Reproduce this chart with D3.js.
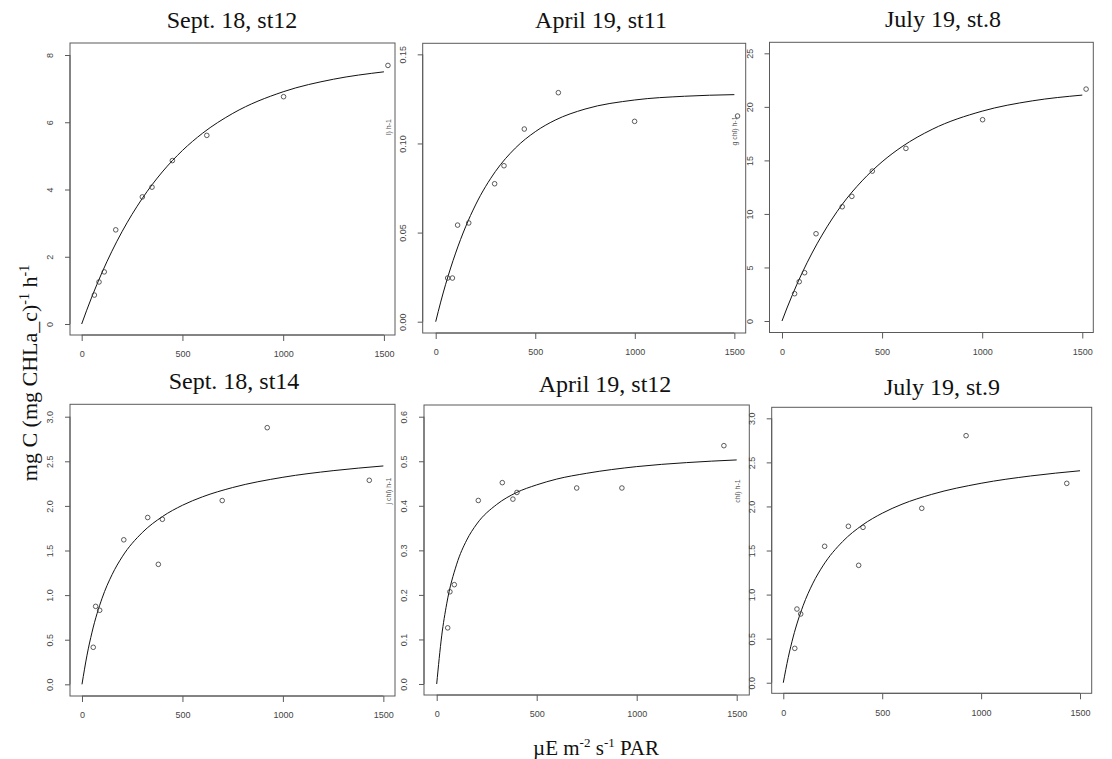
<!DOCTYPE html>
<html>
<head>
<meta charset="utf-8">
<script src="https://cdn.jsdelivr.net/npm/d3@7"></script>
<style>
html,body{margin:0;padding:0;background:#fff;}
svg{display:block;}
</style>
</head>
<body>
<svg id="chart" width="1112" height="759"></svg>
<script>
// ---------- DATA ----------
const panelTitles = ["Sept. 18, st12", "April 19, st11", "July 19, st.8",
                     "Sept. 18, st14", "April 19, st12", "July 19, st.9"];

// observed light (PAR) and production per panel
const parP1 = [63, 86, 112, 169, 301, 349, 450, 621, 1002, 1520];
const prodP1 = [0.86, 1.25, 1.55, 2.80, 3.78, 4.07, 4.86, 5.61, 6.76, 7.69];
const parP2 = [60, 84, 110, 166, 296, 343, 445, 616, 999, 1516];
const prodP2 = [0.0245, 0.0245, 0.0542, 0.0554, 0.0774, 0.0875, 0.1081, 0.1285, 0.1124, 0.1154];
const parP3 = [63, 86, 113, 170, 301, 349, 451, 619, 1002, 1519];
const prodP3 = [2.55, 3.67, 4.51, 8.15, 10.67, 11.64, 14.0, 16.12, 18.8, 21.66];
const parP4 = [56, 68, 88, 208, 327, 380, 400, 698, 922, 1430];
const prodP4 = [0.415, 0.874, 0.83, 1.62, 1.87, 1.345, 1.85, 2.06, 2.877, 2.287];
const parP5 = [55, 66, 88, 208, 328, 381, 401, 700, 926, 1436];
const prodP5 = [0.126, 0.207, 0.223, 0.412, 0.452, 0.415, 0.43, 0.44, 0.44, 0.535];
const parP6 = [58, 69, 88, 209, 329, 381, 403, 700, 924, 1433];
const prodP6 = [0.39, 0.836, 0.78, 1.548, 1.775, 1.332, 1.763, 1.979, 2.803, 2.262];

// fitted P-I curve at these light levels
const curvePar = [0, 25, 50, 100, 150, 200, 300, 400, 500, 600, 750, 1000, 1250, 1500];
const fitP1 = [0, 0.411, 0.801, 1.519, 2.165, 2.743, 3.728, 4.522, 5.160, 5.674, 6.264, 6.907, 7.280, 7.50];
const fitP2 = [0, 0.0110, 0.0210, 0.0385, 0.0532, 0.0655, 0.0843, 0.0974, 0.1066, 0.1131, 0.1193, 0.1244, 0.1265, 0.1274];
const fitP3 = [0, 1.214, 2.36, 4.47, 6.344, 8.02, 10.87, 13.09, 14.87, 16.29, 17.90, 19.60, 20.56, 21.10];
const fitP4 = [0, 0.327, 0.585, 0.965, 1.231, 1.429, 1.701, 1.880, 2.007, 2.102, 2.206, 2.321, 2.395, 2.448];
const fitP5 = [0, 0.108, 0.180, 0.269, 0.323, 0.359, 0.403, 0.430, 0.447, 0.460, 0.473, 0.488, 0.497, 0.503];
const fitP6 = [0, 0.286, 0.519, 0.873, 1.130, 1.325, 1.602, 1.789, 1.923, 2.025, 2.137, 2.263, 2.346, 2.405];

// tick values and labels
const xTicks = [0, 500, 1000, 1500];
const xTickLabels = ["0", "500", "1000", "1500"];
const yTicksP1 = [0, 2, 4, 6, 8];
const yTickLabelsP1 = ["0", "2", "4", "6", "8"];
const yTicksP2 = [0, 0.05, 0.10, 0.15];
const yTickLabelsP2 = ["0.00", "0.05", "0.10", "0.15"];
const yTicksP3 = [0, 5, 10, 15, 20, 25];
const yTickLabelsP3 = ["0", "5", "10", "15", "20", "25"];
const yTicksP4 = [0, 0.5, 1.0, 1.5, 2.0, 2.5, 3.0];
const yTickLabelsP4 = ["0.0", "0.5", "1.0", "1.5", "2.0", "2.5", "3.0"];
const yTicksP5 = [0, 0.1, 0.2, 0.3, 0.4, 0.5, 0.6];
const yTickLabelsP5 = ["0.0", "0.1", "0.2", "0.3", "0.4", "0.5", "0.6"];
const yTicksP6 = [0, 0.5, 1.0, 1.5, 2.0, 2.5, 3.0];
const yTickLabelsP6 = ["0.0", "0.5", "1.0", "1.5", "2.0", "2.5", "3.0"];

// cut-off axis-label fragments visible in the composite
const fragmentTexts = ["l) h-1", "g chl) h-1", "j chl) h-1", "chl) h-1"];

// ---------- LAYOUT ----------
// plot box in px and the axis limits at the box edges
const layout = [
  {x0: 70,    x1: 395,    y0: 43,    y1: 335,   xd: [-58, 1555],   yd: [-0.327, 8.357],   tx: 232, ty: 27.5},
  {x0: 422.7, x1: 745.7,  y0: 43.3,  y1: 333,   xd: [-65.3, 1557], yd: [-0.00634, 0.1562], tx: 601, ty: 28},
  {x0: 769.5, x1: 1093.3, y0: 42.3,  y1: 332.5, xd: [-62.4, 1555], yd: [-1.074, 26.03],    tx: 943, ty: 26.5},
  {x0: 70,    x1: 395,    y0: 404.3, y1: 696,   xd: [-59.7, 1558], yd: [-0.131, 3.139],    tx: 234, ty: 389},
  {x0: 424,   x1: 749.3,  y0: 405,   y1: 695,   xd: [-63.5, 1563], yd: [-0.0247, 0.6263],  tx: 605, ty: 391.5},
  {x0: 771.7, x1: 1091.7, y0: 407.3, y1: 693.3, xd: [-58.6, 1559], yd: [-0.12, 3.125],     tx: 942, ty: 395}
];
const fragmentPos = [[388, 127], [734, 131], [388, 491], [737, 491]];

const panels = [
  {par: parP1, prod: prodP1, fit: fitP1, yt: yTicksP1, ytl: yTickLabelsP1},
  {par: parP2, prod: prodP2, fit: fitP2, yt: yTicksP2, ytl: yTickLabelsP2},
  {par: parP3, prod: prodP3, fit: fitP3, yt: yTicksP3, ytl: yTickLabelsP3},
  {par: parP4, prod: prodP4, fit: fitP4, yt: yTicksP4, ytl: yTickLabelsP4},
  {par: parP5, prod: prodP5, fit: fitP5, yt: yTicksP5, ytl: yTickLabelsP5},
  {par: parP6, prod: prodP6, fit: fitP6, yt: yTicksP6, ytl: yTickLabelsP6}
];

const svg = d3.select("#chart");
svg.append("rect").attr("width", 1112).attr("height", 759).attr("fill", "#fff");

const axisColor = "#5a5a5a";
const tickFont = "'Liberation Sans', Arial, sans-serif";
const serif = "'Liberation Serif', 'Times New Roman', serif";

panels.forEach((p, i) => {
  const L = layout[i];
  const x = d3.scaleLinear().domain(L.xd).range([L.x0, L.x1]);
  const y = d3.scaleLinear().domain(L.yd).range([L.y1, L.y0]);
  const g = svg.append("g");

  // frame
  g.append("rect")
    .attr("x", L.x0).attr("y", L.y0)
    .attr("width", L.x1 - L.x0).attr("height", L.y1 - L.y0)
    .attr("fill", "none").attr("stroke", axisColor).attr("stroke-width", 1);

  // x axis
  const xAxis = d3.axisBottom(x).tickValues(xTicks)
    .tickFormat((d, k) => xTickLabels[k]).tickSize(6).tickPadding(10);
  const gx = g.append("g").attr("transform", `translate(0,${L.y1})`).call(xAxis);
  gx.select(".domain").attr("d", `M${x(xTicks[0])},0H${x(xTicks[xTicks.length - 1])}`)
    .attr("stroke", axisColor);
  gx.selectAll(".tick line").attr("stroke", axisColor);
  gx.selectAll(".tick text").attr("fill", "#444").attr("font-size", 9)
    .attr("font-family", tickFont);

  // y axis
  const yAxis = d3.axisLeft(y).tickValues(p.yt)
    .tickFormat((d, k) => p.ytl[k]).tickSize(5);
  const gy = g.append("g").attr("transform", `translate(${L.x0},0)`).call(yAxis);
  gy.select(".domain").attr("d", `M0,${y(p.yt[0])}V${y(p.yt[p.yt.length - 1])}`)
    .attr("stroke", axisColor);
  gy.selectAll(".tick line").attr("stroke", axisColor);
  gy.selectAll(".tick text")
    .attr("fill", "#444").attr("font-size", 9).attr("font-family", tickFont)
    .attr("x", null).attr("dy", null)
    .attr("text-anchor", "middle")
    .attr("transform", "translate(-17,0) rotate(-90)");

  // fitted curve
  const line = d3.line()
    .x((d, k) => x(curvePar[k]))
    .y(d => y(d))
    .curve(d3.curveMonotoneX);
  g.append("path").datum(p.fit)
    .attr("d", line).attr("fill", "none")
    .attr("stroke", "#111").attr("stroke-width", 1);

  // observations
  g.selectAll("circle.obs").data(p.prod).enter().append("circle")
    .attr("class", "obs")
    .attr("cx", (d, k) => x(p.par[k]))
    .attr("cy", d => y(d))
    .attr("r", 2.3)
    .attr("fill", "none").attr("stroke", "#333").attr("stroke-width", 0.8);

  // title
  svg.append("text")
    .attr("x", L.tx).attr("y", L.ty)
    .attr("text-anchor", "middle")
    .attr("font-family", serif).attr("font-size", 24)
    .attr("fill", "#111")
    .text(panelTitles[i]);
});

// cut-off fragments
fragmentTexts.forEach((t, i) => {
  svg.append("text")
    .attr("transform", `translate(${fragmentPos[i][0] + 2.5},${fragmentPos[i][1]}) rotate(-90)`)
    .attr("text-anchor", "middle")
    .attr("font-family", tickFont).attr("font-size", 7)
    .attr("fill", "#555")
    .text(t);
});

// y axis label
const yl = svg.append("text")
  .attr("transform", "translate(37,373) rotate(-90)")
  .attr("text-anchor", "middle")
  .attr("font-family", serif).attr("font-size", 22).attr("fill", "#111");
yl.append("tspan").text("mg C (mg CHLa_c)");
yl.append("tspan").attr("font-size", 14).attr("dy", -8).text("-1");
yl.append("tspan").attr("dy", 8).text(" h");
yl.append("tspan").attr("font-size", 14).attr("dy", -8).text("-1");

// x axis label
const xl = svg.append("text")
  .attr("x", 596).attr("y", 755)
  .attr("text-anchor", "middle")
  .attr("font-family", serif).attr("font-size", 21).attr("fill", "#111");
xl.append("tspan").text("\u00B5E m");
xl.append("tspan").attr("font-size", 13).attr("dy", -8).text("-2");
xl.append("tspan").attr("dy", 8).text(" s");
xl.append("tspan").attr("font-size", 13).attr("dy", -8).text("-1");
xl.append("tspan").attr("dy", 8).text(" PAR");
</script>
</body>
</html>
